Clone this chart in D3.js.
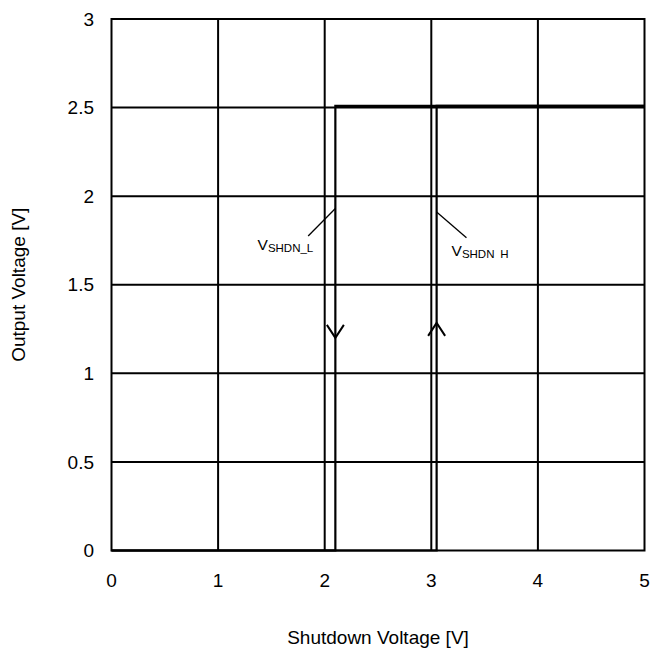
<!DOCTYPE html>
<html>
<head>
<meta charset="utf-8">
<script src="https://cdn.jsdelivr.net/npm/d3@7"></script>
<style>
  html, body { margin: 0; padding: 0; background: #fff; }
  svg { display: block; }
  text { font-family: "Liberation Sans", Arial, sans-serif; fill: #000; }
</style>
</head>
<body>
<div id="chart"></div>
<script>
// ---- data ----
const xTicks = [0, 1, 2, 3, 4, 5];
const yTicks = [0, 0.5, 1, 1.5, 2, 2.5, 3];
const yTickLabels = ["0", "0.5", "1", "1.5", "2", "2.5", "3"];
// falling sweep (output turns off at VSHDN_L)
const fallingX = [5, 2.1, 2.1, 0];
const fallingY = [2.51, 2.51, 0, 0];
// rising sweep (output turns on at VSHDN_H)
const risingX = [0, 3.05, 3.05, 5];
const risingY = [0, 0, 2.51, 2.51];
// direction arrows
const arrowX = [2.1, 3.05];
const arrowY = [1.2, 1.285];
const arrowDir = ["down", "up"];
// annotations
const annoNames = ["SHDN_L", "SHDN\u2002H"];
const annoLineFrom = [[2.1, 1.93], [3.05, 1.91]];
const annoLineTo = [[1.845, 1.775], [3.33, 1.765]];
const annoTextPos = [[1.37, 1.695], [3.19, 1.665]];

const W = 667, H = 649;
const margin = { left: 111.5, right: 667 - 644.5, top: 19, bottom: 649 - 550.5 };

const x = d3.scaleLinear().domain([0, 5]).range([margin.left, W - margin.right]);
const y = d3.scaleLinear().domain([0, 3]).range([H - margin.bottom, margin.top]);

const svg = d3.select("#chart").append("svg").attr("width", W).attr("height", H);

// grid
svg.append("g").selectAll("line").data(xTicks.slice(1, -1)).join("line")
  .attr("x1", d => x(d)).attr("x2", d => x(d))
  .attr("y1", y(0)).attr("y2", y(3))
  .attr("stroke", "#000").attr("stroke-width", 2);
svg.append("g").selectAll("line").data(yTicks.slice(1, -1)).join("line")
  .attr("x1", x(0)).attr("x2", x(5))
  .attr("y1", d => y(d)).attr("y2", d => y(d))
  .attr("stroke", "#000").attr("stroke-width", 2);

// frame
svg.append("rect")
  .attr("x", x(0)).attr("y", y(3))
  .attr("width", x(5) - x(0)).attr("height", y(0) - y(3))
  .attr("fill", "none").attr("stroke", "#000").attr("stroke-width", 2);

// data lines
const line = d3.line().x(d => x(d[0])).y(d => y(d[1]));
[[fallingX, fallingY], [risingX, risingY]].forEach(([xs, ys]) => {
  svg.append("path")
    .datum(xs.map((v, i) => [v, ys[i]]))
    .attr("d", line)
    .attr("fill", "none").attr("stroke", "#000").attr("stroke-width", 2.2);
});

// arrows
arrowX.forEach((ax, i) => {
  const px = x(ax), py = y(arrowY[i]);
  const s = arrowDir[i] === "down" ? -1 : 1;
  svg.append("path")
    .attr("d", `M${px - 8.5},${py + s * 13}L${px},${py}L${px + 8.5},${py + s * 13}`)
    .attr("fill", "none").attr("stroke", "#000").attr("stroke-width", 2);
});

// annotations
annoNames.forEach((nm, i) => {
  svg.append("line")
    .attr("x1", x(annoLineFrom[i][0])).attr("y1", y(annoLineFrom[i][1]))
    .attr("x2", x(annoLineTo[i][0])).attr("y2", y(annoLineTo[i][1]))
    .attr("stroke", "#000").attr("stroke-width", 1.3);
  const t = svg.append("text")
    .attr("x", x(annoTextPos[i][0])).attr("y", y(annoTextPos[i][1]))
    .style("font-size", "15.5px");
  t.append("tspan").text("V");
  t.append("tspan").attr("dy", 2).style("font-size", "11.5px").text(nm);
});

// y tick labels
svg.append("g").selectAll("text").data(yTicks).join("text")
  .attr("x", 94).attr("y", d => y(d))
  .attr("dy", "0.35em")
  .attr("text-anchor", "end")
  .style("font-size", "19px")
  .text((d, i) => yTickLabels[i]);

// x tick labels
svg.append("g").selectAll("text").data(xTicks).join("text")
  .attr("x", d => x(d)).attr("y", 587)
  .attr("text-anchor", "middle")
  .style("font-size", "19px")
  .text(d => d);

// axis titles
svg.append("text")
  .attr("x", (x(0) + x(5)) / 2).attr("y", 644)
  .attr("text-anchor", "middle")
  .style("font-size", "19px")
  .text("Shutdown Voltage [V]");
svg.append("text")
  .attr("transform", `translate(25,${(y(0) + y(3)) / 2}) rotate(-90)`)
  .attr("text-anchor", "middle")
  .style("font-size", "19px")
  .text("Output Voltage [V]");
</script>
</body>
</html>
